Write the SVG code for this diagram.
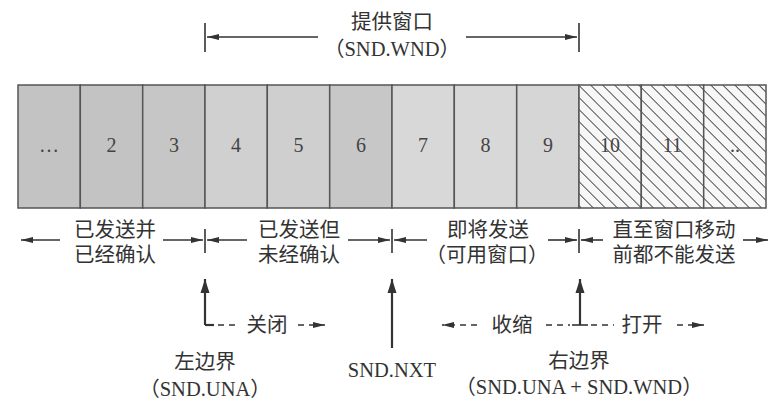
<svg xmlns="http://www.w3.org/2000/svg" width="784" height="408" viewBox="0 0 784 408">
<style>
.t{font-family:"Liberation Serif","Noto Sans CJK SC",serif;fill:#333;text-anchor:middle;font-size:20.5px}
.n{font-family:"Liberation Serif",serif;fill:#444;text-anchor:middle;font-size:20px}
.ln{stroke:#333;stroke-width:1.6;fill:none}
.vl{stroke:#333;stroke-width:2.2;fill:none}
.ds{stroke:#333;stroke-width:1.6;fill:none;stroke-dasharray:6 5}
.cell{stroke:#555;stroke-width:1.5}
</style>
<defs>
<marker id="ah" viewBox="0 0 12 7" refX="12" refY="3.5" markerWidth="12" markerHeight="7" markerUnits="userSpaceOnUse" orient="auto">
<path d="M0,0.5 L12,3.5 L0,6.5 z" fill="#333"/>
</marker>
<marker id="av" viewBox="0 0 14 10" refX="14" refY="5" markerWidth="14" markerHeight="10" markerUnits="userSpaceOnUse" orient="auto">
<path d="M0,0.5 L14,5 L0,9.5 z" fill="#333"/>
</marker>
<pattern id="hatch" patternUnits="userSpaceOnUse" width="8.5" height="8.5" patternTransform="rotate(-45)">
<rect width="8.5" height="8.5" fill="#f7f7f7"/>
<line x1="0" y1="0" x2="0" y2="8.5" stroke="#2a2a2a" stroke-width="1.6"/>
</pattern>
</defs>
<rect width="784" height="408" fill="#ffffff"/>

<g id="top-label">
<text class="t" x="392" y="29">提供窗口</text>
<text class="t" x="392" y="56">（SND.WND）</text>
</g>

<g id="cells">
<g id="c1"><rect class="cell" x="18" y="85" width="62.3" height="123" fill="#c3c3c3"/><text class="n" x="49" y="152">…</text></g>
<g id="c2"><rect class="cell" x="80.3" y="85" width="62.4" height="123" fill="#c3c3c3"/><text class="n" x="111.5" y="152">2</text></g>
<g id="c3"><rect class="cell" x="142.7" y="85" width="62.3" height="123" fill="#c6c6c6"/><text class="n" x="174" y="152">3</text></g>
<g id="c4"><rect class="cell" x="205" y="85" width="62.3" height="123" fill="#d0d0d0"/><text class="n" x="236" y="152">4</text></g>
<g id="c5"><rect class="cell" x="267.3" y="85" width="62.4" height="123" fill="#cfcfcf"/><text class="n" x="298.5" y="152">5</text></g>
<g id="c6"><rect class="cell" x="329.7" y="85" width="62.3" height="123" fill="#c7c7c7"/><text class="n" x="361" y="152">6</text></g>
<g id="c7"><rect class="cell" x="392" y="85" width="62.3" height="123" fill="#d8d8d8"/><text class="n" x="423" y="152">7</text></g>
<g id="c8"><rect class="cell" x="454.3" y="85" width="62.4" height="123" fill="#d8d8d8"/><text class="n" x="485.5" y="152">8</text></g>
<g id="c9"><rect class="cell" x="516.7" y="85" width="62.3" height="123" fill="#d6d6d6"/><text class="n" x="548" y="152">9</text></g>
<g id="c10"><rect class="cell" x="579" y="85" width="62.3" height="123" fill="url(#hatch)"/><text class="n" x="610" y="152">10</text></g>
<g id="c11"><rect class="cell" x="641.3" y="85" width="62.4" height="123" fill="url(#hatch)"/><text class="n" x="672.5" y="152">11</text></g>
<g id="c12"><rect class="cell" x="703.7" y="85" width="62.3" height="123" fill="url(#hatch)"/><text class="n" x="735" y="152">..</text></g>
</g>

<g id="labels">
<g id="sent-acked"><text class="t" x="115" y="237">已发送并</text><text class="t" x="115" y="262">已经确认</text></g>
<g id="sent-unacked"><text class="t" x="299" y="237">已发送但</text><text class="t" x="299" y="262">未经确认</text></g>
<g id="can-send"><text class="t" x="488" y="237">即将发送</text><text class="t" x="487" y="262">（可用窗口）</text></g>
<g id="cannot-send"><text class="t" x="674" y="237">直至窗口移动</text><text class="t" x="674" y="262">前都不能发送</text></g>
<g id="left-edge"><text class="t" x="205" y="369">左边界</text><text class="t" x="205" y="396">（SND.UNA）</text></g>
<g id="nxt"><text class="t" x="392" y="377">SND.NXT</text></g>
<g id="right-edge"><text class="t" x="579" y="368">右边界</text><text class="t" x="579" y="394">（SND.UNA + SND.WND）</text></g>
<g id="close-lbl"><text class="t" x="267" y="332">关闭</text></g>
<g id="shrink-lbl"><text class="t" x="512" y="332">收缩</text></g>
<g id="open-lbl"><text class="t" x="642" y="332">打开</text></g>
</g>

<g id="connectors">
<line class="ln" x1="205" y1="23" x2="205" y2="52"/>
<line class="ln" x1="579" y1="23" x2="579" y2="52"/>
<line class="ln" x1="318" y1="37" x2="207" y2="37" marker-end="url(#ah)"/>
<line class="ln" x1="466" y1="37" x2="577" y2="37" marker-end="url(#ah)"/>
<line class="ln" x1="205" y1="229" x2="205" y2="253"/>
<line class="ln" x1="392" y1="229" x2="392" y2="253"/>
<line class="ln" x1="579" y1="229" x2="579" y2="253"/>
<line class="ln" x1="60" y1="240" x2="21" y2="240" marker-end="url(#ah)"/>
<line class="ln" x1="163" y1="240" x2="203" y2="240" marker-end="url(#ah)"/>
<line class="ln" x1="247" y1="240" x2="207" y2="240" marker-end="url(#ah)"/>
<line class="ln" x1="348" y1="240" x2="390" y2="240" marker-end="url(#ah)"/>
<line class="ln" x1="427" y1="240" x2="394" y2="240" marker-end="url(#ah)"/>
<line class="ln" x1="548" y1="240" x2="577" y2="240" marker-end="url(#ah)"/>
<line class="ln" x1="603" y1="240" x2="581" y2="240" marker-end="url(#ah)"/>
<line class="ln" x1="743" y1="240" x2="768" y2="240" marker-end="url(#ah)"/>
<line class="vl" x1="205" y1="325" x2="205" y2="279" marker-end="url(#av)"/>
<path class="vl" d="M205,325 H214"/>
<line class="ds" x1="218" y1="325" x2="240" y2="325"/>
<line class="ds" x1="298" y1="325" x2="325" y2="325" marker-end="url(#ah)"/>
<line class="vl" x1="392" y1="348" x2="392" y2="279" marker-end="url(#av)"/>
<line class="vl" x1="580" y1="325" x2="580" y2="279" marker-end="url(#av)"/>
<line class="ln" x1="572" y1="325" x2="588" y2="325"/>
<line class="ds" x1="546" y1="325" x2="570" y2="325"/>
<line class="ds" x1="477" y1="325" x2="442" y2="325" marker-end="url(#ah)"/>
<line class="ds" x1="591" y1="325" x2="614" y2="325"/>
<line class="ds" x1="677" y1="325" x2="704" y2="325" marker-end="url(#ah)"/>
</g>
</svg>
